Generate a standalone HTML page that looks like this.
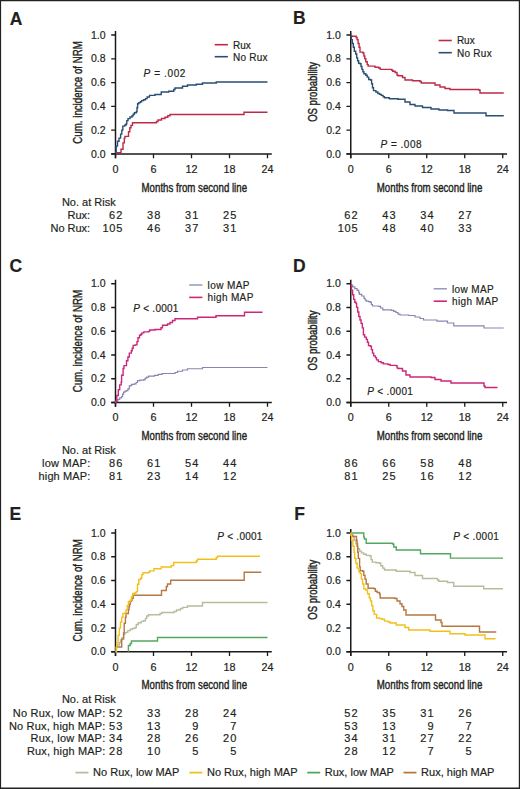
<!DOCTYPE html>
<html><head><meta charset="utf-8"><title>Figure</title>
<style>
html,body{margin:0;padding:0;background:#fff;}
body{width:520px;height:789px;overflow:hidden;}
svg{display:block;}
svg text{font-family:"Liberation Sans", sans-serif;fill:#231f20;stroke:#231f20;stroke-width:0.18px;}
</style></head>
<body>
<svg width="520" height="789" viewBox="0 0 520 789">
<rect x="0" y="0" width="520" height="789" fill="#fff"/>
<text x="9.8" y="24.5" font-size="17.5" text-anchor="start" font-weight="bold">A</text>
<text x="293" y="24.2" font-size="17.5" text-anchor="start" font-weight="bold">B</text>
<text x="9.4" y="271.9" font-size="17.5" text-anchor="start" font-weight="bold">C</text>
<text x="293" y="271.5" font-size="17.5" text-anchor="start" font-weight="bold">D</text>
<text x="9.5" y="520.2" font-size="17.5" text-anchor="start" font-weight="bold">E</text>
<text x="294.3" y="520.2" font-size="17.5" text-anchor="start" font-weight="bold">F</text>
<path d="M115.5 31V158.2" stroke="#1a1a1a" stroke-width="1.5" fill="none"/>
<path d="M111.2 153.9H271.8" stroke="#1a1a1a" stroke-width="1.5" fill="none"/>
<path d="M111.2 153.9H115.5M111.2 130.12H115.5M111.2 106.34H115.5M111.2 82.56H115.5M111.2 58.78H115.5M111.2 35H115.5M115.5 153.9V158.2M153.5 153.9V158.2M191.5 153.9V158.2M229.5 153.9V158.2M267.5 153.9V158.2" stroke="#1a1a1a" stroke-width="1.3" fill="none"/>
<text x="105.5" y="157.5" font-size="10" text-anchor="end" font-weight="normal" textLength="14.6" lengthAdjust="spacingAndGlyphs">0.0</text>
<text x="105.5" y="133.72" font-size="10" text-anchor="end" font-weight="normal" textLength="14.6" lengthAdjust="spacingAndGlyphs">0.2</text>
<text x="105.5" y="109.94" font-size="10" text-anchor="end" font-weight="normal" textLength="14.6" lengthAdjust="spacingAndGlyphs">0.4</text>
<text x="105.5" y="86.16" font-size="10" text-anchor="end" font-weight="normal" textLength="14.6" lengthAdjust="spacingAndGlyphs">0.6</text>
<text x="105.5" y="62.38" font-size="10" text-anchor="end" font-weight="normal" textLength="14.6" lengthAdjust="spacingAndGlyphs">0.8</text>
<text x="105.5" y="38.6" font-size="10" text-anchor="end" font-weight="normal" textLength="14.6" lengthAdjust="spacingAndGlyphs">1.0</text>
<text x="115.5" y="172.8" font-size="10" text-anchor="middle" font-weight="normal" textLength="6" lengthAdjust="spacingAndGlyphs">0</text>
<text x="153.5" y="172.8" font-size="10" text-anchor="middle" font-weight="normal" textLength="6" lengthAdjust="spacingAndGlyphs">6</text>
<text x="191.5" y="172.8" font-size="10" text-anchor="middle" font-weight="normal" textLength="12.01" lengthAdjust="spacingAndGlyphs">12</text>
<text x="229.5" y="172.8" font-size="10" text-anchor="middle" font-weight="normal" textLength="12.01" lengthAdjust="spacingAndGlyphs">18</text>
<text x="267.5" y="172.8" font-size="10" text-anchor="middle" font-weight="normal" textLength="12.01" lengthAdjust="spacingAndGlyphs">24</text>
<text x="194.3" y="191.6" font-size="12" text-anchor="middle" textLength="105.5" lengthAdjust="spacingAndGlyphs" style="stroke-width:0.4px">Months from second line</text>
<text transform="translate(82.2 92.45) rotate(-90)" x="0" y="0" font-size="12" text-anchor="middle" textLength="102.4" lengthAdjust="spacingAndGlyphs" style="stroke-width:0.4px">Cum. incidence of NRM</text>
<path d="M350.75 31V158.2" stroke="#1a1a1a" stroke-width="1.5" fill="none"/>
<path d="M346.45 153.9H507.05" stroke="#1a1a1a" stroke-width="1.5" fill="none"/>
<path d="M346.45 153.9H350.75M346.45 130.12H350.75M346.45 106.34H350.75M346.45 82.56H350.75M346.45 58.78H350.75M346.45 35H350.75M350.75 153.9V158.2M388.75 153.9V158.2M426.75 153.9V158.2M464.75 153.9V158.2M502.75 153.9V158.2" stroke="#1a1a1a" stroke-width="1.3" fill="none"/>
<text x="340.75" y="157.5" font-size="10" text-anchor="end" font-weight="normal" textLength="14.6" lengthAdjust="spacingAndGlyphs">0.0</text>
<text x="340.75" y="133.72" font-size="10" text-anchor="end" font-weight="normal" textLength="14.6" lengthAdjust="spacingAndGlyphs">0.2</text>
<text x="340.75" y="109.94" font-size="10" text-anchor="end" font-weight="normal" textLength="14.6" lengthAdjust="spacingAndGlyphs">0.4</text>
<text x="340.75" y="86.16" font-size="10" text-anchor="end" font-weight="normal" textLength="14.6" lengthAdjust="spacingAndGlyphs">0.6</text>
<text x="340.75" y="62.38" font-size="10" text-anchor="end" font-weight="normal" textLength="14.6" lengthAdjust="spacingAndGlyphs">0.8</text>
<text x="340.75" y="38.6" font-size="10" text-anchor="end" font-weight="normal" textLength="14.6" lengthAdjust="spacingAndGlyphs">1.0</text>
<text x="350.75" y="172.8" font-size="10" text-anchor="middle" font-weight="normal" textLength="6" lengthAdjust="spacingAndGlyphs">0</text>
<text x="388.75" y="172.8" font-size="10" text-anchor="middle" font-weight="normal" textLength="6" lengthAdjust="spacingAndGlyphs">6</text>
<text x="426.75" y="172.8" font-size="10" text-anchor="middle" font-weight="normal" textLength="12.01" lengthAdjust="spacingAndGlyphs">12</text>
<text x="464.75" y="172.8" font-size="10" text-anchor="middle" font-weight="normal" textLength="12.01" lengthAdjust="spacingAndGlyphs">18</text>
<text x="502.75" y="172.8" font-size="10" text-anchor="middle" font-weight="normal" textLength="12.01" lengthAdjust="spacingAndGlyphs">24</text>
<text x="429.55" y="191.6" font-size="12" text-anchor="middle" textLength="105.5" lengthAdjust="spacingAndGlyphs" style="stroke-width:0.4px">Months from second line</text>
<text transform="translate(317.45 91.85) rotate(-90)" x="0" y="0" font-size="12" text-anchor="middle" textLength="60" lengthAdjust="spacingAndGlyphs" style="stroke-width:0.4px">OS probability</text>
<path d="M115.5 279.75V406.8" stroke="#1a1a1a" stroke-width="1.5" fill="none"/>
<path d="M111.2 402.5H271.8" stroke="#1a1a1a" stroke-width="1.5" fill="none"/>
<path d="M111.2 402.5H115.5M111.2 378.75H115.5M111.2 355H115.5M111.2 331.25H115.5M111.2 307.5H115.5M111.2 283.75H115.5M115.5 402.5V406.8M153.5 402.5V406.8M191.5 402.5V406.8M229.5 402.5V406.8M267.5 402.5V406.8" stroke="#1a1a1a" stroke-width="1.3" fill="none"/>
<text x="105.5" y="406.1" font-size="10" text-anchor="end" font-weight="normal" textLength="14.6" lengthAdjust="spacingAndGlyphs">0.0</text>
<text x="105.5" y="382.35" font-size="10" text-anchor="end" font-weight="normal" textLength="14.6" lengthAdjust="spacingAndGlyphs">0.2</text>
<text x="105.5" y="358.6" font-size="10" text-anchor="end" font-weight="normal" textLength="14.6" lengthAdjust="spacingAndGlyphs">0.4</text>
<text x="105.5" y="334.85" font-size="10" text-anchor="end" font-weight="normal" textLength="14.6" lengthAdjust="spacingAndGlyphs">0.6</text>
<text x="105.5" y="311.1" font-size="10" text-anchor="end" font-weight="normal" textLength="14.6" lengthAdjust="spacingAndGlyphs">0.8</text>
<text x="105.5" y="287.35" font-size="10" text-anchor="end" font-weight="normal" textLength="14.6" lengthAdjust="spacingAndGlyphs">1.0</text>
<text x="115.5" y="421.4" font-size="10" text-anchor="middle" font-weight="normal" textLength="6" lengthAdjust="spacingAndGlyphs">0</text>
<text x="153.5" y="421.4" font-size="10" text-anchor="middle" font-weight="normal" textLength="6" lengthAdjust="spacingAndGlyphs">6</text>
<text x="191.5" y="421.4" font-size="10" text-anchor="middle" font-weight="normal" textLength="12.01" lengthAdjust="spacingAndGlyphs">12</text>
<text x="229.5" y="421.4" font-size="10" text-anchor="middle" font-weight="normal" textLength="12.01" lengthAdjust="spacingAndGlyphs">18</text>
<text x="267.5" y="421.4" font-size="10" text-anchor="middle" font-weight="normal" textLength="12.01" lengthAdjust="spacingAndGlyphs">24</text>
<text x="194.3" y="440.2" font-size="12" text-anchor="middle" textLength="105.5" lengthAdjust="spacingAndGlyphs" style="stroke-width:0.4px">Months from second line</text>
<text transform="translate(82.2 341.12) rotate(-90)" x="0" y="0" font-size="12" text-anchor="middle" textLength="102.4" lengthAdjust="spacingAndGlyphs" style="stroke-width:0.4px">Cum. incidence of NRM</text>
<path d="M350.75 279.75V406.8" stroke="#1a1a1a" stroke-width="1.5" fill="none"/>
<path d="M346.45 402.5H507.05" stroke="#1a1a1a" stroke-width="1.5" fill="none"/>
<path d="M346.45 402.5H350.75M346.45 378.75H350.75M346.45 355H350.75M346.45 331.25H350.75M346.45 307.5H350.75M346.45 283.75H350.75M350.75 402.5V406.8M388.75 402.5V406.8M426.75 402.5V406.8M464.75 402.5V406.8M502.75 402.5V406.8" stroke="#1a1a1a" stroke-width="1.3" fill="none"/>
<text x="340.75" y="406.1" font-size="10" text-anchor="end" font-weight="normal" textLength="14.6" lengthAdjust="spacingAndGlyphs">0.0</text>
<text x="340.75" y="382.35" font-size="10" text-anchor="end" font-weight="normal" textLength="14.6" lengthAdjust="spacingAndGlyphs">0.2</text>
<text x="340.75" y="358.6" font-size="10" text-anchor="end" font-weight="normal" textLength="14.6" lengthAdjust="spacingAndGlyphs">0.4</text>
<text x="340.75" y="334.85" font-size="10" text-anchor="end" font-weight="normal" textLength="14.6" lengthAdjust="spacingAndGlyphs">0.6</text>
<text x="340.75" y="311.1" font-size="10" text-anchor="end" font-weight="normal" textLength="14.6" lengthAdjust="spacingAndGlyphs">0.8</text>
<text x="340.75" y="287.35" font-size="10" text-anchor="end" font-weight="normal" textLength="14.6" lengthAdjust="spacingAndGlyphs">1.0</text>
<text x="350.75" y="421.4" font-size="10" text-anchor="middle" font-weight="normal" textLength="6" lengthAdjust="spacingAndGlyphs">0</text>
<text x="388.75" y="421.4" font-size="10" text-anchor="middle" font-weight="normal" textLength="6" lengthAdjust="spacingAndGlyphs">6</text>
<text x="426.75" y="421.4" font-size="10" text-anchor="middle" font-weight="normal" textLength="12.01" lengthAdjust="spacingAndGlyphs">12</text>
<text x="464.75" y="421.4" font-size="10" text-anchor="middle" font-weight="normal" textLength="12.01" lengthAdjust="spacingAndGlyphs">18</text>
<text x="502.75" y="421.4" font-size="10" text-anchor="middle" font-weight="normal" textLength="12.01" lengthAdjust="spacingAndGlyphs">24</text>
<text x="429.55" y="440.2" font-size="12" text-anchor="middle" textLength="105.5" lengthAdjust="spacingAndGlyphs" style="stroke-width:0.4px">Months from second line</text>
<text transform="translate(317.45 340.52) rotate(-90)" x="0" y="0" font-size="12" text-anchor="middle" textLength="60" lengthAdjust="spacingAndGlyphs" style="stroke-width:0.4px">OS probability</text>
<path d="M115.5 529V656.05" stroke="#1a1a1a" stroke-width="1.5" fill="none"/>
<path d="M111.2 651.75H271.8" stroke="#1a1a1a" stroke-width="1.5" fill="none"/>
<path d="M111.2 651.75H115.5M111.2 628H115.5M111.2 604.25H115.5M111.2 580.5H115.5M111.2 556.75H115.5M111.2 533H115.5M115.5 651.75V656.05M153.5 651.75V656.05M191.5 651.75V656.05M229.5 651.75V656.05M267.5 651.75V656.05" stroke="#1a1a1a" stroke-width="1.3" fill="none"/>
<text x="105.5" y="655.35" font-size="10" text-anchor="end" font-weight="normal" textLength="14.6" lengthAdjust="spacingAndGlyphs">0.0</text>
<text x="105.5" y="631.6" font-size="10" text-anchor="end" font-weight="normal" textLength="14.6" lengthAdjust="spacingAndGlyphs">0.2</text>
<text x="105.5" y="607.85" font-size="10" text-anchor="end" font-weight="normal" textLength="14.6" lengthAdjust="spacingAndGlyphs">0.4</text>
<text x="105.5" y="584.1" font-size="10" text-anchor="end" font-weight="normal" textLength="14.6" lengthAdjust="spacingAndGlyphs">0.6</text>
<text x="105.5" y="560.35" font-size="10" text-anchor="end" font-weight="normal" textLength="14.6" lengthAdjust="spacingAndGlyphs">0.8</text>
<text x="105.5" y="536.6" font-size="10" text-anchor="end" font-weight="normal" textLength="14.6" lengthAdjust="spacingAndGlyphs">1.0</text>
<text x="115.5" y="670.65" font-size="10" text-anchor="middle" font-weight="normal" textLength="6" lengthAdjust="spacingAndGlyphs">0</text>
<text x="153.5" y="670.65" font-size="10" text-anchor="middle" font-weight="normal" textLength="6" lengthAdjust="spacingAndGlyphs">6</text>
<text x="191.5" y="670.65" font-size="10" text-anchor="middle" font-weight="normal" textLength="12.01" lengthAdjust="spacingAndGlyphs">12</text>
<text x="229.5" y="670.65" font-size="10" text-anchor="middle" font-weight="normal" textLength="12.01" lengthAdjust="spacingAndGlyphs">18</text>
<text x="267.5" y="670.65" font-size="10" text-anchor="middle" font-weight="normal" textLength="12.01" lengthAdjust="spacingAndGlyphs">24</text>
<text x="194.3" y="689.45" font-size="12" text-anchor="middle" textLength="105.5" lengthAdjust="spacingAndGlyphs" style="stroke-width:0.4px">Months from second line</text>
<text transform="translate(82.2 590.38) rotate(-90)" x="0" y="0" font-size="12" text-anchor="middle" textLength="102.4" lengthAdjust="spacingAndGlyphs" style="stroke-width:0.4px">Cum. incidence of NRM</text>
<path d="M350.75 529V656.05" stroke="#1a1a1a" stroke-width="1.5" fill="none"/>
<path d="M346.45 651.75H507.05" stroke="#1a1a1a" stroke-width="1.5" fill="none"/>
<path d="M346.45 651.75H350.75M346.45 628H350.75M346.45 604.25H350.75M346.45 580.5H350.75M346.45 556.75H350.75M346.45 533H350.75M350.75 651.75V656.05M388.75 651.75V656.05M426.75 651.75V656.05M464.75 651.75V656.05M502.75 651.75V656.05" stroke="#1a1a1a" stroke-width="1.3" fill="none"/>
<text x="340.75" y="655.35" font-size="10" text-anchor="end" font-weight="normal" textLength="14.6" lengthAdjust="spacingAndGlyphs">0.0</text>
<text x="340.75" y="631.6" font-size="10" text-anchor="end" font-weight="normal" textLength="14.6" lengthAdjust="spacingAndGlyphs">0.2</text>
<text x="340.75" y="607.85" font-size="10" text-anchor="end" font-weight="normal" textLength="14.6" lengthAdjust="spacingAndGlyphs">0.4</text>
<text x="340.75" y="584.1" font-size="10" text-anchor="end" font-weight="normal" textLength="14.6" lengthAdjust="spacingAndGlyphs">0.6</text>
<text x="340.75" y="560.35" font-size="10" text-anchor="end" font-weight="normal" textLength="14.6" lengthAdjust="spacingAndGlyphs">0.8</text>
<text x="340.75" y="536.6" font-size="10" text-anchor="end" font-weight="normal" textLength="14.6" lengthAdjust="spacingAndGlyphs">1.0</text>
<text x="350.75" y="670.65" font-size="10" text-anchor="middle" font-weight="normal" textLength="6" lengthAdjust="spacingAndGlyphs">0</text>
<text x="388.75" y="670.65" font-size="10" text-anchor="middle" font-weight="normal" textLength="6" lengthAdjust="spacingAndGlyphs">6</text>
<text x="426.75" y="670.65" font-size="10" text-anchor="middle" font-weight="normal" textLength="12.01" lengthAdjust="spacingAndGlyphs">12</text>
<text x="464.75" y="670.65" font-size="10" text-anchor="middle" font-weight="normal" textLength="12.01" lengthAdjust="spacingAndGlyphs">18</text>
<text x="502.75" y="670.65" font-size="10" text-anchor="middle" font-weight="normal" textLength="12.01" lengthAdjust="spacingAndGlyphs">24</text>
<text x="429.55" y="689.45" font-size="12" text-anchor="middle" textLength="105.5" lengthAdjust="spacingAndGlyphs" style="stroke-width:0.4px">Months from second line</text>
<text transform="translate(317.45 589.77) rotate(-90)" x="0" y="0" font-size="12" text-anchor="middle" textLength="60" lengthAdjust="spacingAndGlyphs" style="stroke-width:0.4px">OS probability</text>
<path d="M115.5 153.9H116.2V146.1H117.5V141.3H119V138.1H120.6V134.1H121.8V130.1H122.8V126.1H124.8V125H126.2V123.8H126.8V120.6H128V118.6H130V117H132V115.8H133.2V114.2H134.4V112.7H136.3V111.8H137V107.8H137.6V103.8H138.8V102.6H140.4V101.8H141.6V100.6H143.5V99.8H145.5V98.6H147.1V97H149.5V95.4H155V94.5H161.25V92H168.75V91.25H173.75V89.5H175V88H182.5V86.25H187.5V85H196.25V84.25H202.5V83H216.25V82H267.5" stroke="#2a4e73" stroke-width="1.4" fill="none" stroke-linejoin="miter"/>
<path d="M115.5 152.6H121V149.3H123V142.9H124.3V138.1H125V136.4H128.5V131.7H129.8V127.7H131V125.4H132.5V122.7H156.5V121.5H158V120H161.5V118.5H165V117.2H167.8V115.8H170V114.5H244V112.2H267.5" stroke="#bb2b47" stroke-width="1.4" fill="none" stroke-linejoin="miter"/>
<path d="M350.75 35.5H351.5V36.3H356.2V37.5H357.1V39.6H358.1V43.5H359.1V47.3H360V52.1H362.9V53H363.9V56H364.8V58.8H365.8V61.7H367.2V64.6H368.2V66.1H375V67.3H378.8V68H380.2V69.4H391.8V70.2H392.7V71.3H395.1V72.5H397V75H398V75.7H402.5V77.5H405V80H412.5V80.75H420V81.5H421.25V83H435V85H440V87H445V88.5H450V89.5H478.75V90H480V93H503.75" stroke="#bb2b47" stroke-width="1.4" fill="none" stroke-linejoin="miter"/>
<path d="M350.75 35.5H350.9V36.7H351.4V39.6H352.3V43.5H353.3V47.3H354.3V51.2H355.7V54H356.7V57.9H357.6V60.8H358.6V63.2H360V63.7H361V66.5H361.9V69.4H362.9V71.8H363.9V73.8H365.8V75.2H367.2V77.1H368.7V79.5H370.6V80H371.6V83.8H372.5V87.7H373.5V90.6H375.9V92H377.8V93.5H379.7V94.4H381.2V95.4H383.1V96.8H384.5V97.8H389.3V98.8H398V99.2H405V102H410V104.5H415V106H422.5V107.5H431V109H439V110H447.5V110.5H454V113H486V115.75H503.75" stroke="#2a4e73" stroke-width="1.4" fill="none" stroke-linejoin="miter"/>
<path d="M115.5 402.5H115.85V401.3H117.8V399.4H119.7V397.9H121.6V396.5H122.6V394.1H123.6V392.1H125V391.2H126.5V390.7H127.9V388.8H129.3V385.9H130.8V385.4H131.7V384.4H134.2V383.9H136.1V382.5H137.5V380.6H139.9V380.1H143.8V379.6H145.2V378.2H146.7V377.2H148.6V376.2H154.4V375.3H158.2V374.3H162.1V373.5H175V372.5H177.5V371.25H182.5V370H187.5V368.75H202.5V367.5H267.5" stroke="#8886b0" stroke-width="1.2" fill="none" stroke-linejoin="miter"/>
<path d="M115.5 402.5H115.85V401.3H116.8V395.5H118.3V389.7H119.7V384.9H121.2V382H121.6V375.3H123.1V368.5H124V365.6H126.5V360.8H127.9V357H129.3V353.1H131.3V350.7H132.2V348.3H133.2V345.4H135.1V344.9H137V341.6H138V337.7H139.5V335.3H140.9V334.3H141.9V332.9H143.8V331.9H148.6V331.4H149.6V330H155V329.5H161V327.8H162.5V325.3H167.5V324H170V322.5H172.5V320.5H175V318.75H197.5V317.2H216V315.8H244.5V312.2H262.5" stroke="#cc2779" stroke-width="1.4" fill="none" stroke-linejoin="miter"/>
<path d="M350.75 285H352.6V286.8H354.8V288.6H357.1V290.3H358.8V292.6H359.4V294.3H361.7V296H364V298.3H365.1V300H366.3V301.1H368.5V301.7H370.3V302.3H371.4V304.5H372.5V306H378.8V306.3H380.5V308H382.8V309.9H391.4V310.3H393.7V311.4H395.9V312.5H398V314.2H400V315H408.75V315.5H415V317H420V318.5H423.5V320H437V321.2H447.5V323H453.75V325.8H484V328H503.75" stroke="#8886b0" stroke-width="1.2" fill="none" stroke-linejoin="miter"/>
<path d="M350.75 285H351.4V290.3H352.6V294.8H353.7V299.4H354.8V302.3H356V303.4H356.6V307.4H357.7V312H358.8V316.5H360V320H361.1V323.4H362.3V327.9H363.4V334.8H364.6V337.1H366.3V339.4H367.4V342.2H368.5V345.6H370.3V346.2H371.4V349.6H372.5V353.1H373.7V355.9H375.4V357.6H376.5V359.9H378.3V361.6H381.1V362.8H383.4V363.9H388V364.5H390.2V365.4H395.9V365.6H397.1V367.9H398V368.5H402.5V371H406V375H410V377H431V377.5H435V379.5H441V381H451V383H484V386H485V387.5H497.5" stroke="#cc2779" stroke-width="1.4" fill="none" stroke-linejoin="miter"/>
<path d="M115.5 651.75H116.5V647H117.5V645H119.3V642.7H120.5V640H121.7V637.9H123.6V634.2H124.8V632.7H126V632.4H127.8V630.6H130.2V629.3H132.7V628.4H135.1V627.5H136.3V624.5H138.2V622.7H141.2V621.4H143.6V620.8H145.5V618.4H146.7V616H148.5V614.7H160V613.5H161.9V612.5H174.2V611.5H176.5V610H180.4V608.5H182.7V607.4H187.5V606H202.5V602.5H267.5" stroke="#b7bc9c" stroke-width="1.4" fill="none" stroke-linejoin="miter"/>
<path d="M128.4 651.75H128.4V645.5H130.2V643.5H131.5V641H157.5V637.5H267.5" stroke="#52a75e" stroke-width="1.4" fill="none" stroke-linejoin="miter"/>
<path d="M115.5 651.75H116.3V647H121.7V639.1H123.6V633H124.2V623.3H125.4V617.2H126V613.5H128.4V609.9H129V606.8H129.6V604.4H130.2V601.4H131.5V600.1H132.1V598.3H133.3V595.3H161.5V590.5H166.3V586.5H167.5V584H170.7V580.3H244.2V572.2H261.25" stroke="#b57843" stroke-width="1.4" fill="none" stroke-linejoin="miter"/>
<path d="M115.5 651.75H116.3V647.6H116.9V642.7H118.1V635.4H119.3V628.1H120.5V622H121.7V617.2H122.9V613.5H124.8V612.9H126V609.9H127.2V605.6H128.4V601.4H130.2V600.1H131.5V596.5H132.7V593.5H135.1V592.8H136.3V591.6H137.5V584.3H138.8V579.5H140.6V578.2H141.8V574.6H143V572.8H148.5V572.2H149.7V570.9H154V568.75H161.25V567H171.25V565.5H173.75V562.5H196.25V561H197.5V559.25H216.25V557.5H217.5V556.25H260" stroke="#f1c01b" stroke-width="1.4" fill="none" stroke-linejoin="miter"/>
<path d="M350.75 533H363.8V537.1H364.4V539H366.2V543.2H392.5V544H393.75V547H396.25V550H420.5V553.75H450.5V558.1H503" stroke="#52a75e" stroke-width="1.4" fill="none" stroke-linejoin="miter"/>
<path d="M350.75 533H351V534.1H352.3V536.5H354.1V540.2H355.9V543.8H357.7V548.7H359.6V551.1H361.4V552.9H363.8V554.2H366.2V555.4H369.9V556H371.1V559.6H372.3V562.1H376V562.7H379.6V563.3H380.8V565.7H382.7V568.1H384.5V570H396.25V571.25H410V572.5H415V575.5H422.5V578.5H437.5V580H438.75V581.25H447.5V582.5H453.75V586.25H483.75V588.75H503" stroke="#b7bc9c" stroke-width="1.4" fill="none" stroke-linejoin="miter"/>
<path d="M350.75 533H351V535.3H352.9V536.5H356.5V540.2H357.1V546.2H357.7V552.3H358.3V558.4H359.6V566.9H360.2V570.6H362.6V571.2H363.8V575.4H365V579.1H366.2V584H368.1V588.2H374.2V588.8H375.4V591.3H377.2V592.5H379.6V594.3H380.2V598H395V598.5H397V601H400V603.75H402V606.5H403.75V610H406V615H435.5V620H441V622.5H442V626.25H479.5V632H496.25" stroke="#b57843" stroke-width="1.4" fill="none" stroke-linejoin="miter"/>
<path d="M350.75 533H351V535.3H351.6V540.2H352.9V546.2H354.1V552.3H354.7V558.4H355.9V563.3H357.1V568.1H358.9V571.8H360.2V573.6H361.4V579.1H362.6V584H363.8V588.8H365.6V590H367.5V593.7H369.3V598H370.5V601H371.7V605.9H372.9V610.7H374.2V614.4H376.6V618H379.6V618.6H382.1V619.2H384.5V621.1H388V621.7H390V623H396.25V625H405V627.5H408.75V630H430V631.25H450V633.75H465V635H485V638.75H495.5" stroke="#f1c01b" stroke-width="1.4" fill="none" stroke-linejoin="miter"/>
<path d="M214.7 44.7H227.9" stroke="#bb2b47" stroke-width="1.6"/>
<text x="233" y="48.6" font-size="10" text-anchor="start" font-weight="normal">Rux</text>
<path d="M214.7 56.7H227.9" stroke="#2a4e73" stroke-width="1.6"/>
<text x="233" y="60.6" font-size="10" text-anchor="start" font-weight="normal" textLength="34.4" lengthAdjust="spacing">No Rux</text>
<path d="M438.6 40.5H451.8" stroke="#bb2b47" stroke-width="1.6"/>
<text x="456.9" y="44.4" font-size="10" text-anchor="start" font-weight="normal">Rux</text>
<path d="M438.6 52.7H451.8" stroke="#2a4e73" stroke-width="1.6"/>
<text x="456.9" y="56.6" font-size="10" text-anchor="start" font-weight="normal" textLength="34.8" lengthAdjust="spacing">No Rux</text>
<path d="M189.2 285H202.4" stroke="#8886b0" stroke-width="1.3"/>
<text x="207.5" y="288.9" font-size="10" text-anchor="start" font-weight="normal" textLength="42" lengthAdjust="spacing">low MAP</text>
<path d="M189.2 297.4H202.4" stroke="#cc2779" stroke-width="1.6"/>
<text x="207.5" y="301.3" font-size="10" text-anchor="start" font-weight="normal" textLength="45.8" lengthAdjust="spacing">high MAP</text>
<path d="M433.7 288.8H446.9" stroke="#8886b0" stroke-width="1.3"/>
<text x="452" y="292.7" font-size="10" text-anchor="start" font-weight="normal" textLength="41.6" lengthAdjust="spacing">low MAP</text>
<path d="M433.7 301.2H446.9" stroke="#cc2779" stroke-width="1.6"/>
<text x="452" y="305.1" font-size="10" text-anchor="start" font-weight="normal" textLength="46.2" lengthAdjust="spacing">high MAP</text>
<text x="143.4" y="76.6" font-size="10" textLength="42" lengthAdjust="spacing"><tspan font-style="italic">P</tspan> = .002</text>
<text x="380.4" y="147.9" font-size="10" textLength="41.2" lengthAdjust="spacing"><tspan font-style="italic">P</tspan> = .008</text>
<text x="133.3" y="312.2" font-size="10" textLength="45.1" lengthAdjust="spacing"><tspan font-style="italic">P</tspan> &lt; .0001</text>
<text x="367.3" y="394.8" font-size="10" textLength="45.5" lengthAdjust="spacing"><tspan font-style="italic">P</tspan> &lt; .0001</text>
<text x="217.3" y="539.9" font-size="10" textLength="45.1" lengthAdjust="spacing"><tspan font-style="italic">P</tspan> &lt; .0001</text>
<text x="453.3" y="539.9" font-size="10" textLength="45.5" lengthAdjust="spacing"><tspan font-style="italic">P</tspan> &lt; .0001</text>
<text x="115.7" y="205.5" font-size="11" text-anchor="end" font-weight="normal">No. at Risk</text>
<text x="90.2" y="218.85" font-size="11" text-anchor="end" font-weight="normal">Rux:</text>
<text x="122.3" y="218.85" font-size="11" text-anchor="end" font-weight="normal" textLength="13.2" lengthAdjust="spacing">62</text>
<text x="160.3" y="218.85" font-size="11" text-anchor="end" font-weight="normal" textLength="13.2" lengthAdjust="spacing">38</text>
<text x="198.3" y="218.85" font-size="11" text-anchor="end" font-weight="normal" textLength="13.2" lengthAdjust="spacing">31</text>
<text x="236.3" y="218.85" font-size="11" text-anchor="end" font-weight="normal" textLength="13.2" lengthAdjust="spacing">25</text>
<text x="90.2" y="231.6" font-size="11" text-anchor="end" font-weight="normal">No Rux:</text>
<text x="122.3" y="231.6" font-size="11" text-anchor="end" font-weight="normal" textLength="19.8" lengthAdjust="spacing">105</text>
<text x="160.3" y="231.6" font-size="11" text-anchor="end" font-weight="normal" textLength="13.2" lengthAdjust="spacing">46</text>
<text x="198.3" y="231.6" font-size="11" text-anchor="end" font-weight="normal" textLength="13.2" lengthAdjust="spacing">37</text>
<text x="236.3" y="231.6" font-size="11" text-anchor="end" font-weight="normal" textLength="13.2" lengthAdjust="spacing">31</text>
<text x="357.55" y="218.85" font-size="11" text-anchor="end" font-weight="normal" textLength="13.2" lengthAdjust="spacing">62</text>
<text x="395.55" y="218.85" font-size="11" text-anchor="end" font-weight="normal" textLength="13.2" lengthAdjust="spacing">43</text>
<text x="433.55" y="218.85" font-size="11" text-anchor="end" font-weight="normal" textLength="13.2" lengthAdjust="spacing">34</text>
<text x="471.55" y="218.85" font-size="11" text-anchor="end" font-weight="normal" textLength="13.2" lengthAdjust="spacing">27</text>
<text x="357.55" y="231.6" font-size="11" text-anchor="end" font-weight="normal" textLength="19.8" lengthAdjust="spacing">105</text>
<text x="395.55" y="231.6" font-size="11" text-anchor="end" font-weight="normal" textLength="13.2" lengthAdjust="spacing">48</text>
<text x="433.55" y="231.6" font-size="11" text-anchor="end" font-weight="normal" textLength="13.2" lengthAdjust="spacing">40</text>
<text x="471.55" y="231.6" font-size="11" text-anchor="end" font-weight="normal" textLength="13.2" lengthAdjust="spacing">33</text>
<text x="115.7" y="454.1" font-size="11" text-anchor="end" font-weight="normal">No. at Risk</text>
<text x="90.2" y="467.45" font-size="11" text-anchor="end" font-weight="normal" textLength="48.2" lengthAdjust="spacing">low MAP:</text>
<text x="122.3" y="467.45" font-size="11" text-anchor="end" font-weight="normal" textLength="13.2" lengthAdjust="spacing">86</text>
<text x="160.3" y="467.45" font-size="11" text-anchor="end" font-weight="normal" textLength="13.2" lengthAdjust="spacing">61</text>
<text x="198.3" y="467.45" font-size="11" text-anchor="end" font-weight="normal" textLength="13.2" lengthAdjust="spacing">54</text>
<text x="236.3" y="467.45" font-size="11" text-anchor="end" font-weight="normal" textLength="13.2" lengthAdjust="spacing">44</text>
<text x="90.2" y="480.2" font-size="11" text-anchor="end" font-weight="normal" textLength="51.6" lengthAdjust="spacing">high MAP:</text>
<text x="122.3" y="480.2" font-size="11" text-anchor="end" font-weight="normal" textLength="13.2" lengthAdjust="spacing">81</text>
<text x="160.3" y="480.2" font-size="11" text-anchor="end" font-weight="normal" textLength="13.2" lengthAdjust="spacing">23</text>
<text x="198.3" y="480.2" font-size="11" text-anchor="end" font-weight="normal" textLength="13.2" lengthAdjust="spacing">14</text>
<text x="236.3" y="480.2" font-size="11" text-anchor="end" font-weight="normal" textLength="13.2" lengthAdjust="spacing">12</text>
<text x="357.55" y="467.45" font-size="11" text-anchor="end" font-weight="normal" textLength="13.2" lengthAdjust="spacing">86</text>
<text x="395.55" y="467.45" font-size="11" text-anchor="end" font-weight="normal" textLength="13.2" lengthAdjust="spacing">66</text>
<text x="433.55" y="467.45" font-size="11" text-anchor="end" font-weight="normal" textLength="13.2" lengthAdjust="spacing">58</text>
<text x="471.55" y="467.45" font-size="11" text-anchor="end" font-weight="normal" textLength="13.2" lengthAdjust="spacing">48</text>
<text x="357.55" y="480.2" font-size="11" text-anchor="end" font-weight="normal" textLength="13.2" lengthAdjust="spacing">81</text>
<text x="395.55" y="480.2" font-size="11" text-anchor="end" font-weight="normal" textLength="13.2" lengthAdjust="spacing">25</text>
<text x="433.55" y="480.2" font-size="11" text-anchor="end" font-weight="normal" textLength="13.2" lengthAdjust="spacing">16</text>
<text x="471.55" y="480.2" font-size="11" text-anchor="end" font-weight="normal" textLength="13.2" lengthAdjust="spacing">12</text>
<text x="115.7" y="703.35" font-size="11" text-anchor="end" font-weight="normal">No. at Risk</text>
<text x="105.2" y="716.85" font-size="11" text-anchor="end" font-weight="normal" textLength="92.4" lengthAdjust="spacing">No Rux, low MAP:</text>
<text x="122.3" y="716.85" font-size="11" text-anchor="end" font-weight="normal" textLength="13.2" lengthAdjust="spacing">52</text>
<text x="160.3" y="716.85" font-size="11" text-anchor="end" font-weight="normal" textLength="13.2" lengthAdjust="spacing">33</text>
<text x="198.3" y="716.85" font-size="11" text-anchor="end" font-weight="normal" textLength="13.2" lengthAdjust="spacing">28</text>
<text x="236.3" y="716.85" font-size="11" text-anchor="end" font-weight="normal" textLength="13.2" lengthAdjust="spacing">24</text>
<text x="357.55" y="716.85" font-size="11" text-anchor="end" font-weight="normal" textLength="13.2" lengthAdjust="spacing">52</text>
<text x="395.55" y="716.85" font-size="11" text-anchor="end" font-weight="normal" textLength="13.2" lengthAdjust="spacing">35</text>
<text x="433.55" y="716.85" font-size="11" text-anchor="end" font-weight="normal" textLength="13.2" lengthAdjust="spacing">31</text>
<text x="471.55" y="716.85" font-size="11" text-anchor="end" font-weight="normal" textLength="13.2" lengthAdjust="spacing">26</text>
<text x="105.2" y="729.55" font-size="11" text-anchor="end" font-weight="normal" textLength="96.2" lengthAdjust="spacing">No Rux, high MAP:</text>
<text x="122.3" y="729.55" font-size="11" text-anchor="end" font-weight="normal" textLength="13.2" lengthAdjust="spacing">53</text>
<text x="160.3" y="729.55" font-size="11" text-anchor="end" font-weight="normal" textLength="13.2" lengthAdjust="spacing">13</text>
<text x="198.3" y="729.55" font-size="11" text-anchor="end" font-weight="normal" textLength="6.6" lengthAdjust="spacing">9</text>
<text x="236.3" y="729.55" font-size="11" text-anchor="end" font-weight="normal" textLength="6.6" lengthAdjust="spacing">7</text>
<text x="357.55" y="729.55" font-size="11" text-anchor="end" font-weight="normal" textLength="13.2" lengthAdjust="spacing">53</text>
<text x="395.55" y="729.55" font-size="11" text-anchor="end" font-weight="normal" textLength="13.2" lengthAdjust="spacing">13</text>
<text x="433.55" y="729.55" font-size="11" text-anchor="end" font-weight="normal" textLength="6.6" lengthAdjust="spacing">9</text>
<text x="471.55" y="729.55" font-size="11" text-anchor="end" font-weight="normal" textLength="6.6" lengthAdjust="spacing">7</text>
<text x="105.2" y="742.25" font-size="11" text-anchor="end" font-weight="normal" textLength="74.6" lengthAdjust="spacing">Rux, low MAP:</text>
<text x="122.3" y="742.25" font-size="11" text-anchor="end" font-weight="normal" textLength="13.2" lengthAdjust="spacing">34</text>
<text x="160.3" y="742.25" font-size="11" text-anchor="end" font-weight="normal" textLength="13.2" lengthAdjust="spacing">28</text>
<text x="198.3" y="742.25" font-size="11" text-anchor="end" font-weight="normal" textLength="13.2" lengthAdjust="spacing">26</text>
<text x="236.3" y="742.25" font-size="11" text-anchor="end" font-weight="normal" textLength="13.2" lengthAdjust="spacing">20</text>
<text x="357.55" y="742.25" font-size="11" text-anchor="end" font-weight="normal" textLength="13.2" lengthAdjust="spacing">34</text>
<text x="395.55" y="742.25" font-size="11" text-anchor="end" font-weight="normal" textLength="13.2" lengthAdjust="spacing">31</text>
<text x="433.55" y="742.25" font-size="11" text-anchor="end" font-weight="normal" textLength="13.2" lengthAdjust="spacing">27</text>
<text x="471.55" y="742.25" font-size="11" text-anchor="end" font-weight="normal" textLength="13.2" lengthAdjust="spacing">22</text>
<text x="105.2" y="754.95" font-size="11" text-anchor="end" font-weight="normal" textLength="78.2" lengthAdjust="spacing">Rux, high MAP:</text>
<text x="122.3" y="754.95" font-size="11" text-anchor="end" font-weight="normal" textLength="13.2" lengthAdjust="spacing">28</text>
<text x="160.3" y="754.95" font-size="11" text-anchor="end" font-weight="normal" textLength="13.2" lengthAdjust="spacing">10</text>
<text x="198.3" y="754.95" font-size="11" text-anchor="end" font-weight="normal" textLength="6.6" lengthAdjust="spacing">5</text>
<text x="236.3" y="754.95" font-size="11" text-anchor="end" font-weight="normal" textLength="6.6" lengthAdjust="spacing">5</text>
<text x="357.55" y="754.95" font-size="11" text-anchor="end" font-weight="normal" textLength="13.2" lengthAdjust="spacing">28</text>
<text x="395.55" y="754.95" font-size="11" text-anchor="end" font-weight="normal" textLength="13.2" lengthAdjust="spacing">12</text>
<text x="433.55" y="754.95" font-size="11" text-anchor="end" font-weight="normal" textLength="6.6" lengthAdjust="spacing">7</text>
<text x="471.55" y="754.95" font-size="11" text-anchor="end" font-weight="normal" textLength="6.6" lengthAdjust="spacing">5</text>
<path d="M75.5 772.6H88.5" stroke="#b7bc9c" stroke-width="1.8"/>
<text x="93.1" y="776.3" font-size="11" text-anchor="start" font-weight="normal">No Rux, low MAP</text>
<path d="M189.4 772.6H202.4" stroke="#f1c01b" stroke-width="1.8"/>
<text x="207" y="776.3" font-size="11" text-anchor="start" font-weight="normal">No Rux, high MAP</text>
<path d="M307.2 772.6H320.2" stroke="#52a75e" stroke-width="1.8"/>
<text x="324.8" y="776.3" font-size="11" text-anchor="start" font-weight="normal">Rux, low MAP</text>
<path d="M403.5 772.6H416.5" stroke="#b57843" stroke-width="1.8"/>
<text x="421.1" y="776.3" font-size="11" text-anchor="start" font-weight="normal">Rux, high MAP</text>
<path d="M0 0.6H520" stroke="#222" stroke-width="1.2"/><path d="M0.55 0V789" stroke="#222" stroke-width="1.1"/><path d="M519.4 0V789" stroke="#222" stroke-width="1.2"/><path d="M0 788.25H520" stroke="#222" stroke-width="1.5"/>
</svg>
</body></html>
